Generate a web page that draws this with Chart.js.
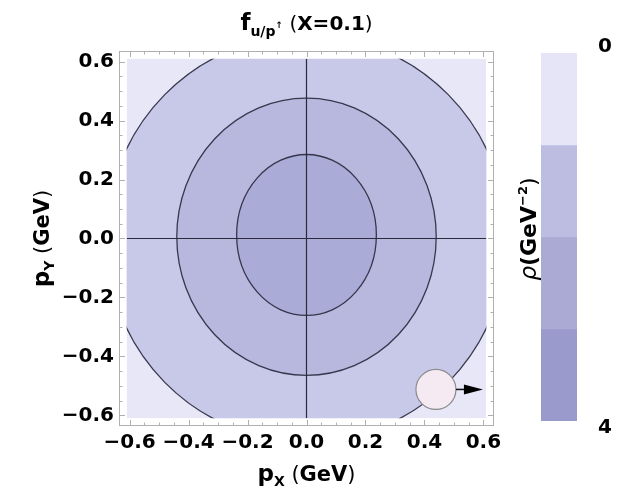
<!DOCTYPE html>
<html><head><meta charset="utf-8">
<script src="https://cdn.jsdelivr.net/npm/chart.js@4/dist/chart.umd.min.js"></script>
<style>
html,body{margin:0;padding:0;background:#fff;}
#wrap{position:relative;width:634px;height:496px;background:#fff;}
#main{position:absolute;left:0;top:0;}
#cb{position:absolute;left:505px;top:0;}
</style></head><body>
<div id="wrap">
<canvas id="main" width="634" height="496"></canvas>
<canvas id="cb" width="129" height="496"></canvas>
</div>
<script>
// ---- data ----
const xTicks = [-0.6, -0.4, -0.2, 0.0, 0.2, 0.4, 0.6];
const yTicks = [-0.6, -0.4, -0.2, 0.0, 0.2, 0.4, 0.6];
const minorStep = 0.05;
const axisRange = [-0.636, 0.636];
const plotRange = [-0.61, 0.61];
const contourLevels = [1, 2, 3];
const contourRx = [0.68, 0.44, 0.237];
const contourRy = [0.69, 0.47, 0.273];
const contourCy = [0.0, 0.006, 0.012];
const bandColors = ['#e7e7f8', '#c8c8e8', '#b8b8df', '#ababd8'];
const colorbarBands = [1, 1, 1, 1];
const colorbarColors = ['#e5e5f7', '#bdbde1', '#aaaad5', '#9a9acc'];
const colorbarTicks = [0, 4];
const spinMarker = [{x: 0.439, y: -0.512}];

const FONT = 'DejaVu Sans';

function fmt(v){ const s = Math.abs(v).toFixed(1); return (v < -1e-9 ? '\u2212' : '') + s; }

function drawRich(ctx, parts, x, y, align){
  let w = 0;
  parts.forEach(p => { ctx.font = p.font; w += ctx.measureText(p.t).width; });
  let cx = align === 'center' ? x - w/2 : x;
  ctx.textBaseline = 'alphabetic'; ctx.textAlign = 'left';
  parts.forEach(p => { ctx.font = p.font; ctx.fillStyle = '#000'; ctx.fillText(p.t, cx, y + (p.dy||0)); cx += ctx.measureText(p.t).width; });
}

const contourPlugin = {
  id: 'contours',
  beforeDatasetsDraw(chart){
    const {ctx, scales:{x, y}} = chart;
    const px = v => x.getPixelForValue(v), py = v => y.getPixelForValue(v);
    const L = px(plotRange[0]), R = px(plotRange[1]), T = py(plotRange[1]), B = py(plotRange[0]);
    ctx.save();
    ctx.beginPath(); ctx.rect(L, T, R-L, B-T); ctx.clip();
    ctx.fillStyle = bandColors[0]; ctx.fillRect(L, T, R-L, B-T);
    contourLevels.forEach((lv, i) => {
      ctx.beginPath();
      ctx.ellipse(px(0), py(contourCy[i]), px(contourRx[i]) - px(0), py(0) - py(contourRy[i]), 0, 0, 2*Math.PI);
      ctx.fillStyle = bandColors[i+1]; ctx.fill();
    });
    ctx.strokeStyle = 'rgba(40,40,60,0.9)'; ctx.lineWidth = 1.3;
    contourLevels.forEach((lv, i) => {
      ctx.beginPath();
      ctx.ellipse(px(0), py(contourCy[i]), px(contourRx[i]) - px(0), py(0) - py(contourRy[i]), 0, 0, 2*Math.PI);
      ctx.stroke();
    });
    ctx.strokeStyle = '#2a2a3a'; ctx.lineWidth = 1.2;
    ctx.beginPath(); ctx.moveTo(px(0), T); ctx.lineTo(px(0), B); ctx.stroke();
    ctx.beginPath(); ctx.moveTo(L, py(0)); ctx.lineTo(R, py(0)); ctx.stroke();
    ctx.restore();
  },
  afterDatasetsDraw(chart){
    const {ctx, scales:{x, y}} = chart;
    const m = spinMarker[0];
    const cx = x.getPixelForValue(m.x), cy = y.getPixelForValue(m.y);
    const r = 20;
    ctx.save();
    ctx.strokeStyle = '#111'; ctx.lineWidth = 1.5;
    ctx.beginPath(); ctx.moveTo(cx + r, cy); ctx.lineTo(cx + r + 10, cy); ctx.stroke();
    ctx.fillStyle = '#000';
    ctx.beginPath(); ctx.moveTo(cx + r + 8, cy - 5); ctx.lineTo(cx + r + 27, cy); ctx.lineTo(cx + r + 8, cy + 5); ctx.closePath(); ctx.fill();
    ctx.restore();
  },
  afterDraw(chart){
    const {ctx, chartArea:a, scales:{x, y}} = chart;
    ctx.save();
    ctx.strokeStyle = '#b0b0b0'; ctx.lineWidth = 1;
    ctx.strokeRect(a.left + 0.5, a.top + 0.5, a.right - a.left - 1, a.bottom - a.top - 1);
    const n = Math.round((xTicks[xTicks.length-1] - xTicks[0]) / minorStep);
    for (let k = 0; k <= n; k++){
      const v = xTicks[0] + k*minorStep;
      const major = k % 4 === 0;
      const len = major ? 6 : 3.5;
      const X = Math.round(x.getPixelForValue(v)) + 0.5;
      const Y = Math.round(y.getPixelForValue(v)) + 0.5;
      ctx.beginPath();
      ctx.moveTo(X, a.bottom); ctx.lineTo(X, a.bottom - len);
      ctx.moveTo(X, a.top); ctx.lineTo(X, a.top + len);
      ctx.moveTo(a.left, Y); ctx.lineTo(a.left + len, Y);
      ctx.moveTo(a.right, Y); ctx.lineTo(a.right - len, Y);
      ctx.stroke();
    }
    // title
    const tx = (a.left + a.right) / 2;
    drawRich(ctx, [
      {t:'f', font:'bold 23px ' + FONT},
      {t:'u/p', font:'bold 14px ' + FONT, dy:6},
      {t:'\u2191', font:'bold 9px ' + FONT, dy:-2},
      {t:' (', font:'20px ' + FONT},
      {t:'X=0.1', font:'bold 20px ' + FONT},
      {t:')', font:'20px ' + FONT}
    ], tx, 30, 'center');
    // x title
    drawRich(ctx, [
      {t:'p', font:'bold 23px ' + FONT},
      {t:'X', font:'bold 14px ' + FONT, dy:5},
      {t:' (', font:'21px ' + FONT},
      {t:'GeV', font:'bold 21px ' + FONT},
      {t:')', font:'21px ' + FONT}
    ], tx, 481, 'center');
    // y title
    ctx.save();
    ctx.translate(49, (a.top + a.bottom) / 2);
    ctx.rotate(-Math.PI/2);
    drawRich(ctx, [
      {t:'p', font:'bold 23px ' + FONT},
      {t:'Y', font:'bold 14px ' + FONT, dy:5},
      {t:' (', font:'21px ' + FONT},
      {t:'GeV', font:'bold 21px ' + FONT},
      {t:')', font:'21px ' + FONT}
    ], 0, 0, 'center');
    ctx.restore();
    ctx.restore();
  }
};

const tickFont = {family: FONT, size: 20, weight: 'bold'};

new Chart(document.getElementById('main'), {
  type: 'scatter',
  data: {
    datasets: [{
      data: spinMarker,
      pointRadius: 20,
      pointHoverRadius: 20,
      backgroundColor: '#f6eaf2',
      borderColor: '#8a8a8a',
      borderWidth: 1.2
    }]
  },
  options: {
    responsive: false,
    animation: false,
    events: [],
    layout: {padding: {left: 0, right: 140, top: 51, bottom: 0}},
    plugins: {legend: {display: false}, tooltip: {enabled: false}, title: {display: false}},
    scales: {
      x: {
        type: 'linear', min: axisRange[0], max: axisRange[1],
        afterBuildTicks: s => { s.ticks = xTicks.map(v => ({value: v})); },
        afterFit: s => { s.height = 70; },
        grid: {display: false, drawTicks: false},
        border: {display: false},
        ticks: {font: tickFont, color: '#000', padding: 5, maxRotation: 0, autoSkip: false, callback: v => fmt(v)}
      },
      y: {
        type: 'linear', min: axisRange[0], max: axisRange[1],
        afterBuildTicks: s => { s.ticks = yTicks.map(v => ({value: v})); },
        afterFit: s => { s.width = 119; },
        grid: {display: false, drawTicks: false},
        border: {display: false},
        ticks: {font: tickFont, color: '#000', padding: 5, autoSkip: false, callback: v => fmt(v)}
      }
    }
  },
  plugins: [contourPlugin]
});

const cbPlugin = {
  id: 'cbLabels',
  afterDraw(chart){
    const {ctx, chartArea:a, scales:{y}} = chart;
    ctx.save();
    ctx.fillStyle = '#000';
    ctx.font = 'bold 20px ' + FONT;
    ctx.textAlign = 'center'; ctx.textBaseline = 'middle';
    const lx = a.right + 28;
    ctx.fillText(String(colorbarTicks[0]), lx, y.getPixelForValue(colorbarTicks[0]) - 6);
    ctx.fillText(String(colorbarTicks[1]), lx, y.getPixelForValue(colorbarTicks[1]) + 7);
    ctx.translate(a.left - 5, (a.top + a.bottom) / 2 - 8);
    ctx.rotate(-Math.PI/2);
    drawRich(ctx, [
      {t:'\u03C1', font:'italic 23px ' + FONT},
      {t:'(GeV', font:'bold 22px ' + FONT},
      {t:'\u22122', font:'bold 13px ' + FONT, dy:-9},
      {t:')', font:'22px ' + FONT}
    ], 0, 0, 'center');
    ctx.restore();
  }
};

new Chart(document.getElementById('cb'), {
  type: 'bar',
  data: {
    labels: [''],
    datasets: colorbarBands.map((v, i) => ({
      data: [v], backgroundColor: colorbarColors[i], borderWidth: 0,
      barPercentage: 1, categoryPercentage: 1
    }))
  },
  options: {
    responsive: false,
    animation: false,
    events: [],
    layout: {padding: {left: 36, right: 57, top: 53, bottom: 75}},
    plugins: {legend: {display: false}, tooltip: {enabled: false}},
    scales: {
      x: {display: false, stacked: true},
      y: {display: false, stacked: true, reverse: true, min: 0, max: 4}
    }
  },
  plugins: [cbPlugin]
});
</script>
</body></html>
